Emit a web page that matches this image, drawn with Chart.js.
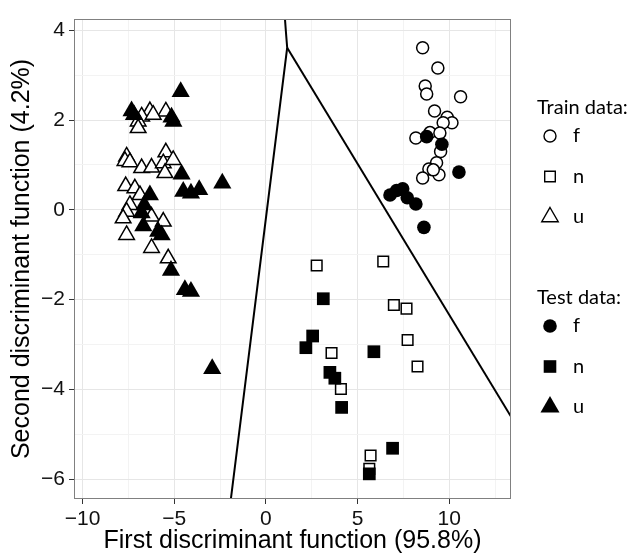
<!DOCTYPE html>
<html lang="en">
  <head>
    <meta charset="utf-8" />
    <title>Discriminant function plot</title>
    <script src="https://cdn.jsdelivr.net/npm/chart.js"></script>
    <style>
      html,
      body {
        margin: 0;
        padding: 0;
        background: #ffffff;
      }
      #wrap {
        width: 632px;
        height: 554px;
      }
    </style>
  </head>
  <body>
    <div id="wrap">
      <canvas id="ldaChart" width="632" height="554"></canvas>
    </div>
    <script>
      // scores on the two discriminant functions, [LD1, LD2]
      const trainF = [
        [8.55, 3.61], [9.38, 3.16], [8.69, 2.76], [8.77, 2.58], [10.62, 2.52],
        [9.2, 2.2], [9.89, 2.06], [10.15, 1.94], [9.67, 1.94], [8.18, 1.6],
        [8.95, 1.72], [9.49, 1.71], [9.53, 1.3], [9.31, 1.05], [8.89, 0.91],
        [9.44, 0.78], [8.55, 0.71], [9.13, 0.89],
      ];
      const trainN = [
        [2.77, -1.24], [6.4, -1.15], [6.98, -2.12], [7.67, -2.2], [7.73, -2.9],
        [8.27, -3.49], [3.58, -3.19], [4.09, -3.99], [5.71, -5.47], [5.64, -5.77],
      ];
      const trainU = [
        [-6.33, 2.2], [-5.46, 2.19], [-6.78, 2.08], [-6.97, 1.97], [-6.97, 1.82],
        [-6.15, 2.12], [-7.6, 1.19], [-7.69, 1.09], [-7.42, 1.06], [-6.78, 0.93],
        [-6.24, 0.94], [-5.46, 1.28], [-5.6, 1.04], [-5.06, 1.11], [-5.51, 0.82],
        [-7.65, 0.53], [-7.15, 0.48], [-6.87, 0.33], [-7.42, 0.11], [-7.6, -0.04],
        [-7.79, -0.19], [-6.24, -0.15], [-5.6, -0.26], [-7.6, -0.56], [-6.24, -0.85],
        [-5.33, -1.08],
      ];
      const testF = [
        [6.77, 0.33], [7.13, 0.43], [7.46, 0.47], [7.71, 0.27], [8.18, 0.13],
        [8.62, -0.39], [10.53, 0.84], [8.77, 1.63], [9.6, 1.46],
      ];
      const testN = [
        [3.13, -1.98], [2.55, -2.81], [2.18, -3.07], [5.89, -3.16], [3.49, -3.62],
        [3.76, -3.75], [4.13, -4.4], [6.91, -5.31], [5.64, -5.88],
      ];
      const testU = [
        [-4.65, 2.63], [-7.33, 2.2], [-7.2, 2.12], [-5.15, 2.06], [-5.05, 1.97],
        [-4.6, 0.79], [-4.51, 0.41], [-4.09, 0.37], [-3.64, 0.45], [-2.38, 0.59],
        [-6.33, 0.33], [-6.64, 0.11], [-6.78, -0.07], [-6.69, -0.36], [-5.88, -0.48],
        [-5.69, -0.56], [-5.18, -1.35], [-4.42, -1.78], [-4.09, -1.82], [-2.93, -3.54],
      ];

      // classification boundaries
      const boundaryLeft = [[1.03, 4.3], [1.09, 3.97], [1.16, 3.61], [-1.93, -6.5]];
      const boundaryRight = [[1.16, 3.61], [13.45, -4.66]];

      const classLabels = ["f", "n", "u"];
      const xMajorTicks = [-10, -5, 0, 5, 10];
      const xMinorTicks = [-7.5, -2.5, 2.5, 7.5, 12.5];
      const yMajorTicks = [-6, -4, -2, 0, 2, 4];
      const yMinorTicks = [-5, -3, -1, 1, 3];
      const xRange = [-10.47, 13.37];
      const yRange = [-6.44, 4.25];

      const toXY = (arr) => arr.map((p) => ({ x: p[0], y: p[1] }));
      const minus = (v) => (v < 0 ? "\u2212" + Math.abs(v) : String(v));

      const axisFont = "'Liberation Sans', Arial, sans-serif";
      const legendFont = "Lato, 'Open Sans', sans-serif";

      function pointSet(label, data, style, radius, filled) {
        return {
          label: label,
          data: toXY(data),
          pointStyle: style,
          pointRadius: radius,
          pointHoverRadius: radius,
          backgroundColor: filled ? "#000000" : "#ffffff",
          borderColor: "#000000",
          borderWidth: filled ? 0 : 1.5,
        };
      }

      function lineSet(data) {
        return {
          label: "boundary",
          data: toXY(data),
          showLine: true,
          pointRadius: 0,
          borderColor: "#000000",
          borderWidth: 2,
          fill: false,
          clip: 0,
        };
      }

      // simple marker drawing for the legend keys
      function drawKey(ctx, shape, filled, x, y) {
        ctx.beginPath();
        if (shape === "circle") {
          ctx.arc(x, y, filled ? 6.8 : 6, 0, Math.PI * 2);
        } else if (shape === "rect") {
          const h = filled ? 6.3 : 5.3;
          ctx.rect(x - h, y - h, 2 * h, 2 * h);
        } else {
          const r = filled ? 11 : 9.5;
          ctx.moveTo(x, y - r);
          ctx.lineTo(x + r * 0.866, y + r / 2);
          ctx.lineTo(x - r * 0.866, y + r / 2);
          ctx.closePath();
        }
        if (filled) {
          ctx.fillStyle = "#000000";
          ctx.fill();
        } else {
          ctx.fillStyle = "#ffffff";
          ctx.fill();
          ctx.lineWidth = 1.4;
          ctx.strokeStyle = "#000000";
          ctx.stroke();
        }
      }

      const panelAndLegend = {
        id: "panelAndLegend",
        afterDraw(chart) {
          const ctx = chart.ctx;
          const a = chart.chartArea;
          ctx.save();
          ctx.strokeStyle = "#808080";
          ctx.lineWidth = 1;
          ctx.strokeRect(a.left + 0.5, a.top + 0.5, a.right - a.left - 1, a.bottom - a.top - 1);

          const shapes = ["circle", "rect", "triangle"];
          const groups = [
            { title: "Train data:", filled: false, top: 108 },
            { title: "Test data:", filled: true, top: 298 },
          ];
          ctx.textBaseline = "middle";
          ctx.textAlign = "left";
          groups.forEach((g) => {
            ctx.fillStyle = "#000000";
            ctx.font = "20px " + legendFont;
            ctx.fillText(g.title, 537, g.top);
            classLabels.forEach((lab, i) => {
              const cy = g.top + 28 + i * 40.5;
              drawKey(ctx, shapes[i], g.filled, 550, cy);
              ctx.fillStyle = "#000000";
              ctx.font = "20px " + legendFont;
              ctx.fillText(lab, 573, cy);
            });
          });
          ctx.restore();
        },
      };

      const xTickValues = xMajorTicks.concat(xMinorTicks).sort((a, b) => a - b);
      const yTickValues = yMajorTicks.concat(yMinorTicks).sort((a, b) => a - b);

      new Chart(document.getElementById("ldaChart"), {
        type: "scatter",
        data: {
          datasets: [
            pointSet("Test f", testF, "circle", 6.8, true),
            pointSet("Test n", testN, "rect", 9, true),
            pointSet("Test u", testU, "triangle", 10.5, true),
            pointSet("Train f", trainF, "circle", 6, false),
            pointSet("Train n", trainN, "rect", 7.5, false),
            pointSet("Train u", trainU, "triangle", 9, false),
            lineSet(boundaryLeft),
            lineSet(boundaryRight),
          ],
        },
        options: {
          responsive: false,
          animation: false,
          layout: { padding: { left: 0, top: 19, right: 121, bottom: 0 } },
          plugins: {
            legend: { display: false },
            tooltip: { enabled: false },
          },
          scales: {
            x: {
              type: "linear",
              min: xRange[0],
              max: xRange[1],
              afterBuildTicks: (s) => {
                s.ticks = xTickValues.map((v) => ({ value: v }));
              },
              afterFit: (s) => {
                s.height = 55;
              },
              border: { display: false },
              grid: {
                color: (c) => (xMajorTicks.includes(c.tick.value) ? "#e6e6e6" : "#f3f3f3"),
                tickColor: (c) => (xMajorTicks.includes(c.tick.value) ? "#333333" : "rgba(0,0,0,0)"),
                tickLength: 5,
                lineWidth: 1,
              },
              ticks: {
                autoSkip: false,
                maxRotation: 0,
                padding: 3,
                color: "#111111",
                font: { family: axisFont, size: 21 },
                callback: (v) => (xMajorTicks.includes(v) ? minus(v) : ""),
              },
              title: {
                display: true,
                text: "First discriminant function (95.8%)",
                color: "#000000",
                font: { family: axisFont, size: 25, lineHeight: 1.0 },
                padding: { top: 0, bottom: 0 },
              },
            },
            y: {
              type: "linear",
              min: yRange[0],
              max: yRange[1],
              afterBuildTicks: (s) => {
                s.ticks = yTickValues.map((v) => ({ value: v }));
              },
              afterFit: (s) => {
                s.width = 74;
              },
              border: { display: false },
              grid: {
                color: (c) => (yMajorTicks.includes(c.tick.value) ? "#e6e6e6" : "#f3f3f3"),
                tickColor: (c) => (yMajorTicks.includes(c.tick.value) ? "#333333" : "rgba(0,0,0,0)"),
                tickLength: 5,
                lineWidth: 1,
              },
              ticks: {
                autoSkip: false,
                padding: 4,
                color: "#111111",
                font: { family: axisFont, size: 21 },
                callback: (v) => (yMajorTicks.includes(v) ? minus(v) : ""),
              },
              title: {
                display: true,
                text: "Second discriminant function (4.2%)",
                color: "#000000",
                font: { family: axisFont, size: 25, lineHeight: 1.0 },
                padding: { top: 10, bottom: 0 },
              },
            },
          },
        },
        plugins: [panelAndLegend],
      });
    </script>
  </body>
</html>
